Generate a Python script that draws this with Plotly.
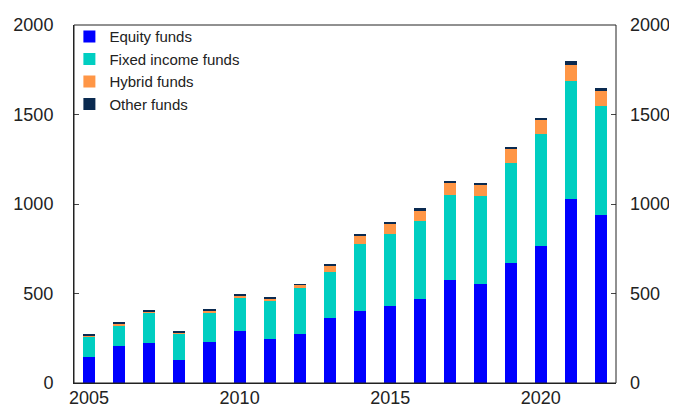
import plotly.graph_objects as go

years = list(range(2005, 2023))
equity = [143, 204, 224, 128, 230, 289, 244, 274, 363, 402, 430, 472, 576, 552, 672, 768, 1030, 941]
fixed_income = [114, 116, 165, 146, 161, 185, 213, 256, 258, 372, 401, 435, 472, 492, 558, 623, 655, 605]
hybrid = [10, 13, 13, 9, 15, 13, 17, 18, 35, 52, 58, 58, 71, 63, 79, 78, 94, 87]
other = [3, 5, 4, 5, 4, 5, 5, 5, 5, 5, 10, 10, 12, 12, 11, 13, 18, 14]

series = [
    ("Equity funds", equity, "#0000FF"),
    ("Fixed income funds", fixed_income, "#00CEC1"),
    ("Hybrid funds", hybrid, "#FF9646"),
    ("Other funds", other, "#0A2A50"),
]

font_family = "Liberation Sans, Arial, sans-serif"
text_color = "#222222"

fig = go.Figure()
for name, vals, color in series:
    fig.add_trace(go.Bar(x=years, y=vals, name=name, marker_color=color,
                         marker_line_width=0, width=0.4))

# invisible trace to activate right axis
fig.add_trace(go.Scatter(x=[years[0]], y=[0], yaxis="y2", showlegend=False,
                         mode="markers", marker_opacity=0, hoverinfo="skip"))

# frame around plot area
fig.add_shape(type="rect", xref="paper", yref="paper", x0=0, x1=1, y0=0, y1=1,
              line=dict(color="#222", width=1), layer="above")

fig.update_layout(
    template="none",
    barmode="stack",
    width=669, height=399,
    margin=dict(l=66, r=61, t=17, b=24, autoexpand=False),
    plot_bgcolor="white", paper_bgcolor="white",
    font=dict(family=font_family, color=text_color, size=18),
    showlegend=True,
    legend=dict(x=-0.0085, y=1.013, xanchor="left", yanchor="top",
                font=dict(size=15, color=text_color),
                bgcolor="rgba(0,0,0,0)", traceorder="normal"),
    xaxis=dict(range=[2004.5, 2022.5], tickvals=[2005, 2010, 2015, 2020],
               showline=True, linecolor="#222", linewidth=1.3, mirror=False,
               ticks="", showgrid=False, zeroline=False, automargin=False,
               ticklabelstandoff=-2,
               tickfont=dict(size=18, color=text_color)),
    yaxis=dict(range=[0, 2000], tickvals=[0, 500, 1000, 1500, 2000],
               showline=True, linecolor="#222", linewidth=1, mirror=False,
               ticks="inside", ticklen=5, tickcolor="#444", automargin=False,
               showgrid=False, zeroline=False, ticklabelstandoff=16,
               tickfont=dict(size=18, color=text_color)),
    yaxis2=dict(range=[0, 2000], tickvals=[0, 500, 1000, 1500, 2000],
                overlaying="y", side="right", showline=False,
                ticks="inside", ticklen=5, tickcolor="#444", automargin=False,
                showgrid=False, zeroline=False, ticklabelstandoff=13,
                tickfont=dict(size=18, color=text_color)),
    bargap=0.6,
)

fig.write_html("out.html")
